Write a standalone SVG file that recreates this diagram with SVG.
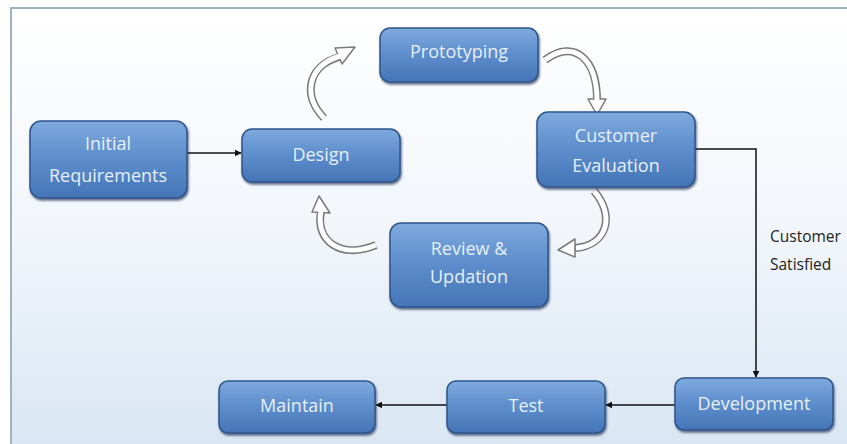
<svg xmlns="http://www.w3.org/2000/svg" width="847" height="444" viewBox="0 0 847 444">
<defs>
<linearGradient id="bg" x1="0" y1="0" x2="0" y2="1">
<stop offset="0" stop-color="#ffffff"/>
<stop offset="0.5" stop-color="#f2f6fb"/>
<stop offset="1" stop-color="#d9e6f3"/>
</linearGradient>
<linearGradient id="box" x1="0" y1="0" x2="0" y2="1">
<stop offset="0" stop-color="#7eaadd"/>
<stop offset="0.45" stop-color="#5f8fcd"/>
<stop offset="1" stop-color="#4575b7"/>
</linearGradient>
<filter id="sh" x="-10%" y="-10%" width="120%" height="130%">
<feDropShadow dx="1" dy="2" stdDeviation="1.2" flood-color="#1d3557" flood-opacity="0.7"/>
</filter>
<marker id="ah" viewBox="0 0 10 10" refX="9" refY="5" markerWidth="7" markerHeight="7" orient="auto" markerUnits="userSpaceOnUse">
<path d="M0,0 L10,5 L0,10 z" fill="#111"/>
</marker>
</defs>
<style>
.node rect{fill:url(#box);stroke:#2f558c;stroke-width:1.5;filter:url(#sh)}
.node text{font-family:"Open Sans","Liberation Sans",sans-serif;font-size:18px;fill:#e6effa;text-anchor:middle}
.conn{fill:none;stroke:#111;stroke-width:1.5}
.lbl{font-family:"Open Sans","Liberation Sans",sans-serif;font-size:15.5px;fill:#222}
.cout{fill:none;stroke:#7a7a7a;stroke-width:8;stroke-linecap:butt}
.cin{fill:none;stroke:#ffffff;stroke-width:5;stroke-linecap:butt}
.head{fill:#ffffff;stroke:#7a7a7a;stroke-width:1.5;stroke-linejoin:round}
</style>
<rect x="0" y="0" width="847" height="444" fill="#ffffff"/>
<rect x="11" y="8" width="840" height="440" fill="url(#bg)" stroke="#9fb3bf" stroke-width="2"/>

<g id="connectors">
<path class="conn" d="M187,153 L241,153" marker-end="url(#ah)"/>
<path class="conn" d="M695,149 L756,149 L756,377" marker-end="url(#ah)"/>
<path class="conn" d="M675,405 L606,405" marker-end="url(#ah)"/>
<path class="conn" d="M447,405 L376,405" marker-end="url(#ah)"/>
<text class="lbl" x="770" y="242">Customer</text>
<text class="lbl" x="770" y="270">Satisfied</text>
</g>

<g id="cycle-arrows">
<g id="arrow-design-proto">
<path class="cout" d="M324,118 C302,95 308,66 339,57"/>
<polygon class="head" points="335,48 355,47 342,64"/>
<path class="cin" d="M324,118 C302,95 308,66 340,56"/>
</g>
<g id="arrow-proto-eval">
<path class="cout" d="M545,60 C575,38 597,60 597,100"/>
<polygon class="head" points="588,99 606,99 597,115"/>
<path class="cin" d="M545,60 C575,38 597,60 597,101"/>
</g>
<g id="arrow-eval-review">
<path class="cout" d="M594,191 C615,215 608,245 575,248"/>
<polygon class="head" points="575,239 575,257 558,250"/>
<path class="cin" d="M594,191 C615,215 608,245 576,248"/>
</g>
<g id="arrow-review-design">
<path class="cout" d="M376,245 C340,260 315,240 321,212"/>
<polygon class="head" points="312,212 330,213 319,196"/>
<path class="cin" d="M376,245 C340,260 315,240 321,211"/>
</g>
</g>

<g id="n-initial" class="node"><rect x="30" y="121" width="157" height="77" rx="11"/><text x="108" y="150">Initial</text><text x="108" y="182">Requirements</text></g>
<g id="n-design" class="node"><rect x="242" y="129" width="158" height="53" rx="10"/><text x="321" y="161">Design</text></g>
<g id="n-proto" class="node"><rect x="380" y="28" width="158" height="54" rx="10"/><text x="459" y="58">Prototyping</text></g>
<g id="n-eval" class="node"><rect x="537" y="112" width="158" height="75" rx="11"/><text x="616" y="142">Customer</text><text x="616" y="172">Evaluation</text></g>
<g id="n-review" class="node"><rect x="390" y="223" width="158" height="84" rx="11"/><text x="469" y="255">Review &amp;</text><text x="469" y="283">Updation</text></g>
<g id="n-maintain" class="node"><rect x="219" y="381" width="156" height="52" rx="9"/><text x="297" y="412">Maintain</text></g>
<g id="n-test" class="node"><rect x="447" y="381" width="158" height="52" rx="9"/><text x="526" y="412">Test</text></g>
<g id="n-dev" class="node"><rect x="675" y="378" width="158" height="52" rx="9"/><text x="754" y="410">Development</text></g>
</svg>
